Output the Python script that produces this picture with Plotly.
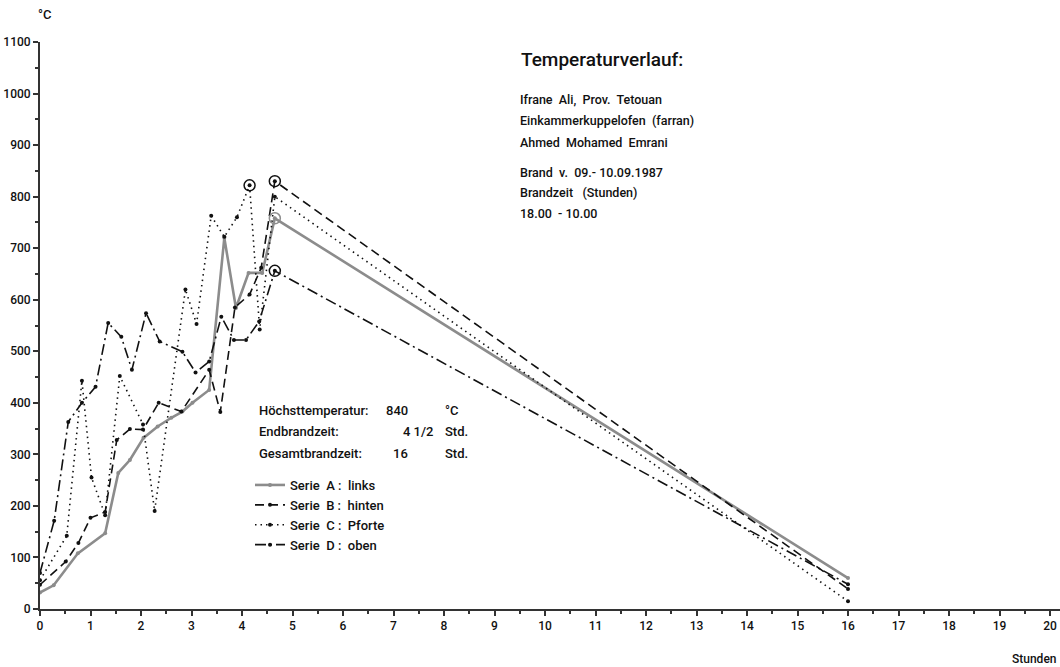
import plotly.graph_objects as go

# ---- data ----
a_t = [0, 0.27, 0.75, 1.29, 1.55, 1.78, 2.05, 2.33, 2.6, 2.82, 3.02, 3.35, 3.65, 3.88, 4.13, 4.4, 4.65, 16]
a_T = [32, 46, 108, 147, 264, 289, 332, 354, 371, 383, 400, 425, 720, 584, 652, 652, 758, 60]

b_t = [0, 0.51, 0.76, 1.0, 1.29, 1.52, 1.78, 2.04, 2.35, 2.8, 3.35, 3.57, 3.86, 4.15, 4.38, 4.65, 16]
b_T = [47, 92, 128, 177, 188, 328, 349, 348, 400, 383, 464, 382, 585, 610, 662, 830, 39]

c_t = [0, 0.53, 0.83, 1.02, 1.29, 1.58, 2.04, 2.27, 2.88, 3.1, 3.39, 3.65, 3.9, 4.15, 4.35, 4.65, 16]
c_T = [56, 142, 443, 255, 182, 452, 358, 190, 620, 553, 763, 722, 760, 822, 542, 800, 15]

d_t = [0, 0.28, 0.56, 0.83, 1.1, 1.35, 1.61, 1.82, 2.1, 2.37, 2.82, 3.08, 3.35, 3.59, 3.84, 4.08, 4.34, 4.65, 16]
d_T = [70, 171, 363, 400, 431, 555, 528, 464, 574, 519, 499, 459, 480, 567, 522, 522, 558, 656, 48]

y_ticks = list(range(0, 1101, 100))
x_ticks = list(range(0, 21))

info_labels = ["Höchsttemperatur:", "Endbrandzeit:", "Gesamtbrandzeit:"]
info_values = ["840", "4 1/2", "16"]
info_units = ["°C", "Std.", "Std."]

title_lines = ["Ifrane\u00a0 Ali,\u00a0 Prov.\u00a0 Tetouan",
               "Einkammerkuppelofen\u00a0 (farran)",
               "Ahmed\u00a0 Mohamed\u00a0 Emrani"]
title_lines2 = ["Brand\u00a0 v.\u00a0 09.- 10.09.1987",
                "Brandzeit\u00a0\u00a0 (Stunden)",
                "18.00\u00a0 - 10.00"]

FONT = "Roboto, Liberation Sans, DejaVu Sans, sans-serif"

# ---- geometry helpers (pixel -> paper) ----
W, H = 1060, 667
ML, MR, MT, MB = 40, 0, 42, 58
PW, PH = W - ML - MR, H - MT - MB
PX_PER_HOUR = 50.5
def xp(px): return (px - ML) / PW
def yp(py): return (H - MB - py) / PH

fig = go.Figure()

series = [
    ("Serie\u00a0 A\u00a0:\u00a0 links", a_t, a_T, dict(color="#8c8c8c", width=2.6, dash="solid")),
    ("Serie\u00a0 B\u00a0:\u00a0 hinten", b_t, b_T, dict(color="#111111", width=1.6, dash="9px,5px")),
    ("Serie\u00a0 C\u00a0:\u00a0 Pforte", c_t, c_T, dict(color="#111111", width=1.6, dash="1.5px,4px")),
    ("Serie\u00a0 D\u00a0:\u00a0 oben", d_t, d_T, dict(color="#111111", width=1.6, dash="11px,4px,2px,4px")),
]
for name, t, T, ln in series:
    fig.add_trace(go.Scatter(x=t, y=T, mode="lines+markers", name=name, line=ln,
                             marker=dict(size=4, color=ln["color"]), showlegend=True))

# peak circles
for name, t, T, ln in series:
    i = max(range(len(T)), key=lambda k: T[k])
    fig.add_trace(go.Scatter(x=[t[i]], y=[T[i]], mode="markers", showlegend=False,
                             marker=dict(size=11, symbol="circle-open", color=ln["color"],
                                         line=dict(width=1.5, color=ln["color"]))))

axis_common = dict(showgrid=False, zeroline=False, showline=True, linecolor="#333333", linewidth=2,
                   ticks="outside", tickcolor="#333333", tickwidth=2, ticklen=5, automargin=False,
                   ticklabeloverflow="allow",
                   tickfont=dict(family=FONT, size=12, color="#111111", weight=500))
fig.update_xaxes(range=[0, PW / PX_PER_HOUR], tickvals=x_ticks, ticktext=[str(v) for v in x_ticks],
                 minor=dict(dtick=0.5, ticks="outside", ticklen=3, tickcolor="#333333", tickwidth=1.5),
                 **axis_common)
fig.update_yaxes(range=[0, 1100], tickvals=y_ticks, ticktext=[str(v) for v in y_ticks],
                 minor=dict(dtick=50, ticks="outside", ticklen=3, tickcolor="#333333", tickwidth=1.5),
                 **axis_common)

ann = []
def txt(px, py, s, size=13, anchor="left", weight=500):
    ann.append(dict(x=xp(px), y=yp(py), xref="paper", yref="paper", text=s, showarrow=False,
                    xanchor=anchor, yanchor="middle",
                    font=dict(family=FONT, size=size, color="#111111", weight=weight)))

txt(36, 15, "°C", 13)
txt(1058, 659, "Stunden", 12, "right")
txt(519, 59, "Temperaturverlauf:", 19)
for k, s in enumerate(title_lines):
    txt(518, 99 + 21.5 * k, s, 12.5)
for k, s in enumerate(title_lines2):
    txt(518, 172 + 20.5 * k, s, 12.5)
for k in range(3):
    py = 410 + 21.5 * k
    txt(257, py, info_labels[k], 13)
    txt(435 if k == 1 else 410, py, info_values[k], 13, "right")
    txt(443, py, info_units[k], 13)

fig.update_layout(
    width=W, height=H, margin=dict(l=ML, r=MR, t=MT, b=MB),
    paper_bgcolor="white", plot_bgcolor="white",
    annotations=ann,
    legend=dict(x=xp(250), y=yp(470), xanchor="left", yanchor="top", bgcolor="rgba(0,0,0,0)",
                font=dict(family=FONT, size=13, color="#111111", weight=500),
                itemwidth=30, tracegroupgap=0),
    font=dict(family=FONT),
)
fig.write_html("out.html")
